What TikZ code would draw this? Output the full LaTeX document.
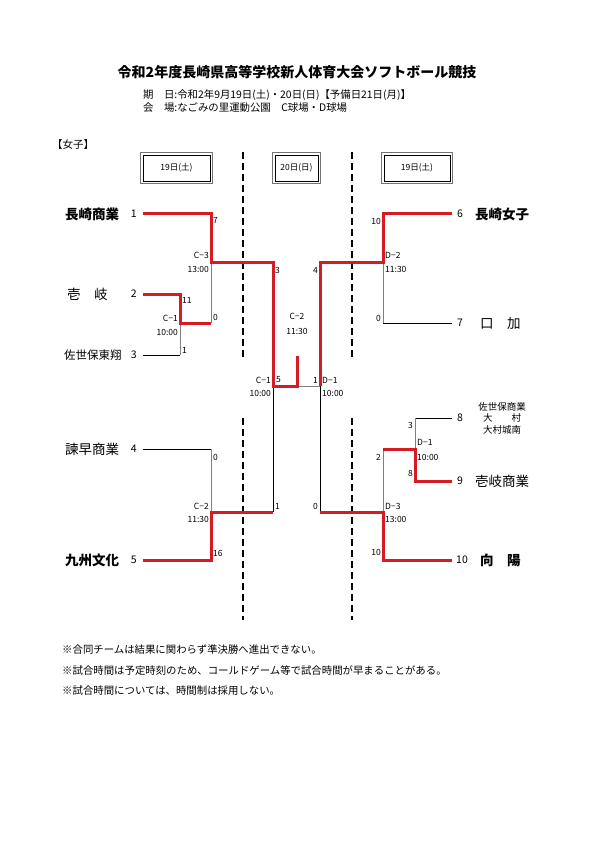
\documentclass[tikz,border=0pt]{standalone}
\usepackage{fontspec}
\setmainfont{Noto Sans CJK JP}
\usetikzlibrary{calc}
\definecolor{wred}{RGB}{214,28,34}
\tikzset{
 win/.style={draw=wred, line width=3pt, line join=miter},
 lose/.style={draw=black, line width=0.7pt},
 gline/.style={draw=black!50, line width=0.8pt},
 sc/.style={inner sep=0pt, font=\fontsize{8.5}{9}\selectfont},
 mlbl/.style={inner sep=0pt, font=\fontsize{8.5}{9}\selectfont},
 tname/.style={inner sep=0pt, anchor=west, font=\fontsize{13.5}{14}\selectfont},
 tnameb/.style={inner sep=0pt, anchor=west, font=\bfseries\fontsize{13.5}{14}\selectfont},
 tsmall/.style={inner sep=0pt, anchor=west, font=\fontsize{11.5}{12}\selectfont},
 tnum/.style={inner sep=0pt, font=\fontsize{10.5}{12}\selectfont},
 datebox/.style={draw=black, line width=0.6pt, inner sep=0pt, minimum height=26pt, font=\fontsize{8.5}{9}\selectfont},
 boxframe/.style={draw=black!55, line width=1.3pt},
 divider/.style={draw=black, line width=1.7pt, dash pattern=on 7pt off 4pt},
 note/.style={inner sep=0pt, anchor=west, font=\fontsize{10.4}{12}\selectfont},
 head/.style={inner sep=0pt, anchor=west, font=\fontsize{10.4}{12}\selectfont},
}
\begin{document}
\begin{tikzpicture}[x=1pt,y=-1pt]
\fill[white] (0,0) rectangle (595,842);
\useasboundingbox (0,0) rectangle (595,842);

% title and header
\node[inner sep=0pt, font=\bfseries\fontsize{14}{16}\selectfont] (title) at (297,72) {令和2年度長崎県高等学校新人体育大会ソフトボール競技};
\node[head] (date) at (143,95) {期　日:令和2年9月19日(土)・20日(日)【予備日21日(月)】};
\node[head] (venue) at (143,108) {会　場:なごみの里運動公園　C球場・D球場};
\node[head, font=\fontsize{10.5}{12}\selectfont] (cat) at (52,145) {【女子】};

% date boxes
\node[datebox, minimum width=67pt] (b1) at (176.5,168) {19日(土)};
\node[datebox, minimum width=43pt] (b2) at (296.5,168) {20日(日)};
\node[datebox, minimum width=66pt] (b3) at (417,168) {19日(土)};
\foreach \b in {b1,b2,b3}{
 \draw[boxframe] ([xshift=-2pt,yshift=2pt]\b.north west) rectangle ([xshift=2pt,yshift=-2pt]\b.south east);
}

% dividers
\coordinate (dA1) at (243,152); \coordinate (dA2) at (243,358);
\coordinate (dA3) at (243,418); \coordinate (dA4) at (243,620);
\coordinate (dB1) at (352,152); \coordinate (dB2) at (352,358);
\coordinate (dB3) at (352,418); \coordinate (dB4) at (352,620);
\draw[divider] (dA1) -- (dA2);
\draw[divider] (dA3) -- (dA4);
\draw[divider] (dB1) -- (dB2);
\draw[divider] (dB3) -- (dB4);

% coordinates
\coordinate (t1) at (143,214); \coordinate (j1) at (211,214);
\coordinate (c3) at (211,262); \coordinate (m3) at (273,262);
\coordinate (t2) at (143,294); \coordinate (j2) at (180,294);
\coordinate (c1) at (180,323); \coordinate (c1r) at (211,323);
\coordinate (t3) at (143,355); \coordinate (j3) at (180,355);
\coordinate (t4) at (143,449); \coordinate (j4) at (211,449);
\coordinate (c2) at (211,512); \coordinate (m2) at (273,512);
\coordinate (t5) at (143,560); \coordinate (j5) at (211,560);
\coordinate (cl) at (273,386); \coordinate (cm) at (297,386);
\coordinate (ctop) at (297,356); \coordinate (cr) at (320,386);
\coordinate (m4) at (320,262); \coordinate (d2) at (383,262);
\coordinate (j6) at (383,214); \coordinate (t6) at (452,214);
\coordinate (d2b) at (383,323); \coordinate (t7) at (452,323);
\coordinate (t8) at (452,418); \coordinate (j8) at (415,418);
\coordinate (d1) at (415,449); \coordinate (d1l) at (383,449);
\coordinate (j9) at (415,481); \coordinate (t9) at (452,481);
\coordinate (d3) at (383,512); \coordinate (m5) at (320,512);
\coordinate (j10) at (383,560); \coordinate (t10) at (452,560);

% losing / neutral lines
\draw[lose] (t3) -- (j3);
\draw[gline] (j3) -- (c1);
\draw[gline] (c3) -- (c1r);
\draw[lose] (t4) -- (j4);
\draw[gline] (j4) -- (c2);
\draw[lose] (m2) -- (cl);
\draw[gline] (cm) -- (cr);
\draw[gline] (d2) -- (d2b);
\draw[lose] (d2b) -- (t7);
\draw[lose] (t8) -- (j8);
\draw[gline] (j8) -- (d1);
\draw[gline] (d1l) -- (d3);
\draw[lose] (m5) -- (cr);

% winning lines
\draw[win] (t1) -- (j1) -- (c3) -- (m3) -- (cl) -- (cm) -- (ctop);
\draw[win] (t2) -- (j2) -- (c1) -- (c1r);
\draw[win] (t5) -- (j5) -- (c2) -- (m2);
\draw[win] (t6) -- (j6) -- (d2) -- (m4) -- (cr);
\draw[win] (t9) -- (j9) -- (d1) -- (d1l);
\draw[win] (t10) -- (j10) -- (d3) -- (m5);

% left teams
\node[tnameb] (n1) at (65,214) {長崎商業};
\node[tnum, anchor=east] (k1) at (137,214) {1};
\node[tname] (n2) at (67,294) {壱　岐};
\node[tnum, anchor=east] (k2) at (137,294) {2};
\node[tsmall] (n3) at (64,355) {佐世保東翔};
\node[tnum, anchor=east] (k3) at (137,355) {3};
\node[tname] (n4) at (65,449) {諫早商業};
\node[tnum, anchor=east] (k4) at (137,449) {4};
\node[tnameb] (n5) at (65,560) {九州文化};
\node[tnum, anchor=east] (k5) at (137,560) {5};

% right teams
\node[tnum, anchor=west] (k6) at (457,214) {6};
\node[tnameb] (n6) at (475,214) {長崎女子};
\node[tnum, anchor=west] (k7) at (457,323) {7};
\node[tname] (n7) at (480,323) {口　加};
\node[tnum, anchor=west] (k8) at (457,418) {8};
\node[inner sep=0pt, align=center, font=\fontsize{9.5}{11.5}\selectfont] (n8) at (502,418) {佐世保商業\\大　　村\\大村城南};
\node[tnum, anchor=west] (k9) at (457,481) {9};
\node[tname] (n9) at (475,481) {壱岐商業};
\node[tnum, anchor=west] (k10) at (456,560) {10};
\node[tnameb] (n10) at (480,560) {向　陽};

% scores left side
\node[sc, anchor=west] (s1) at (213,220) {7};
\node[sc, anchor=west] (s2) at (275,270) {3};
\node[sc, anchor=west] (s3) at (182,300) {11};
\node[sc, anchor=west] (s4) at (213,317) {0};
\node[sc, anchor=west] (s5) at (182,350) {1};
\node[sc, anchor=west] (s6) at (276,380) {5};
\node[sc, anchor=west] (s7) at (213,457) {0};
\node[sc, anchor=west] (s8) at (275,506) {1};
\node[sc, anchor=west] (s9) at (213,553) {16};
% scores right side
\node[sc, anchor=east] (s10) at (381,221) {10};
\node[sc, anchor=east] (s11) at (318,270) {4};
\node[sc, anchor=east] (s12) at (381,318) {0};
\node[sc, anchor=east] (s13) at (318,380) {1};
\node[sc, anchor=east] (s14) at (413,425) {3};
\node[sc, anchor=east] (s15) at (413,473) {8};
\node[sc, anchor=east] (s16) at (381,457) {2};
\node[sc, anchor=east] (s17) at (318,506) {0};
\node[sc, anchor=east] (s18) at (381,552) {10};

% match labels
\node[mlbl, anchor=east] (lc3a) at (209,255) {C−3};
\node[mlbl, anchor=east] (lc3b) at (209,269) {13:00};
\node[mlbl, anchor=east] (lc1a) at (178,318) {C−1};
\node[mlbl, anchor=east] (lc1b) at (178,332) {10:00};
\node[mlbl, anchor=east] (lc2a) at (209,506) {C−2};
\node[mlbl, anchor=east] (lc2b) at (209,519) {11:30};
\node[mlbl] (lf1) at (297,316) {C−2};
\node[mlbl] (lf2) at (297,331) {11:30};
\node[mlbl, anchor=east] (lsc1a) at (271,380) {C−1};
\node[mlbl, anchor=east] (lsc1b) at (271,393) {10:00};
\node[mlbl, anchor=west] (lsd1a) at (322,380) {D−1};
\node[mlbl, anchor=west] (lsd1b) at (322,393) {10:00};
\node[mlbl, anchor=west] (ld2a) at (385,255) {D−2};
\node[mlbl, anchor=west] (ld2b) at (385,269) {11:30};
\node[mlbl, anchor=west] (ld1a) at (417,442) {D−1};
\node[mlbl, anchor=west] (ld1b) at (417,457) {10:00};
\node[mlbl, anchor=west] (ld3a) at (385,506) {D−3};
\node[mlbl, anchor=west] (ld3b) at (385,519) {13:00};

% notes
\node[note] (note1) at (62,650) {※合同チームは結果に関わらず準決勝へ進出できない。};
\node[note] (note2) at (62,671) {※試合時間は予定時刻のため、コールドゲーム等で試合時間が早まることがある。};
\node[note] (note3) at (62,691) {※試合時間については、時間制は採用しない。};
\end{tikzpicture}
\end{document}
